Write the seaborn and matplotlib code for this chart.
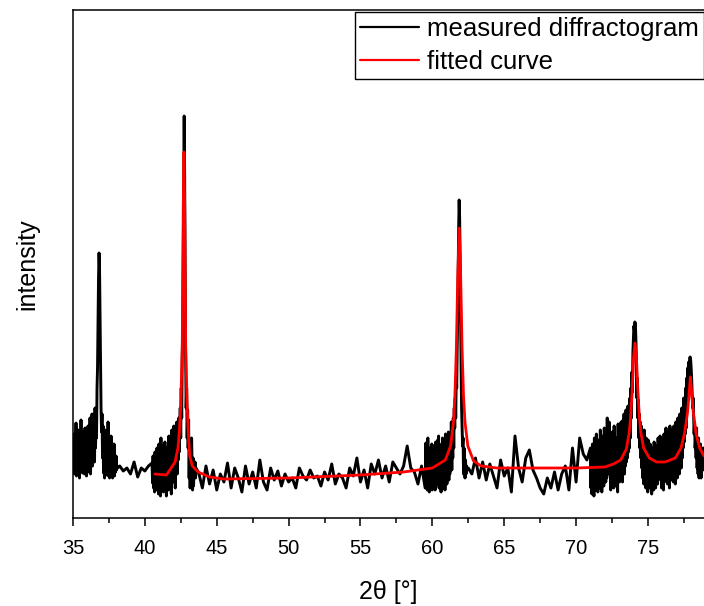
import numpy as np
import pandas as pd
import matplotlib
matplotlib.use("Agg")
import matplotlib.pyplot as plt
import seaborn as sns

# measured diffractogram in pieces
# (dense scans are equally stepped, the parts in between are coarse)
dense_a_range = (35.0, 38.1)
dense_a = [78, 48, 84, 44, 70, 52, 95, 42, 72, 55, 88, 46, 66, 40, 80, 54, 98, 48, 74, 45,
           86, 58, 76, 44, 90, 50, 68, 42, 82, 56, 92, 46, 72, 50, 100, 44, 78, 58, 104, 52,
           88, 62, 96, 56, 110, 70,
           100, 80, 130, 150, 200, 240, 265, 250, 200, 140, 110, 86, 104,
           60, 92, 45, 76, 40, 88, 52, 70, 43, 84, 48, 96, 42, 66, 40, 78, 46, 82, 44, 70,
           40, 64, 46, 74, 42, 58, 46, 62, 48, 52, 50]

coarse_b_x = [38.25, 38.5, 38.75, 39.0, 39.25, 39.5, 39.75, 40.0, 40.25]
coarse_b = [52, 47, 50, 44, 56, 41, 50, 47, 52]

dense_c_range = (40.5, 43.56)
dense_c = [55, 35, 62, 30, 50, 26, 66, 38, 58, 28, 70, 34, 62, 24, 74, 40, 66, 22, 80, 44,
           60, 30, 72, 26, 58, 36, 76, 30, 64, 22, 70, 42, 56, 28, 82, 34, 68, 30, 76, 24,
           88, 46, 72, 36, 92, 54, 70, 30, 84, 60, 96, 44, 80, 58, 100, 66, 90,
           110, 80, 130, 100, 160, 190, 250, 330, 402,
           340, 250, 160, 110, 130, 80, 108, 70, 98, 40, 78, 30, 64, 36, 80, 55, 28, 60,
           32, 50, 44, 56, 40, 50]

coarse_d_range = (43.75, 59.5)
coarse_d = [45, 30, 52, 34, 48, 28, 44, 36, 55, 30, 50, 40, 26, 52, 34, 46, 30, 58, 36, 28,
            50, 38, 47, 32, 44, 36, 40, 30, 50, 42, 38, 48, 40, 42, 32, 46, 38, 54, 34, 44,
            40, 30, 50, 42, 60, 36, 48, 30, 54, 44, 58, 40, 52, 36, 56, 50, 44, 52, 72, 50,
            46, 34, 52, 30]

dense_e_range = (59.55, 62.41)
dense_e = [75, 30, 62, 28, 80, 34, 58, 26, 70, 38, 66, 30, 74, 28, 60, 36, 72, 32, 64, 28,
           76, 40, 68, 34, 78, 46, 82, 30, 70, 38, 62, 26, 74, 36, 80, 30, 66, 42, 72, 28,
           84, 40, 70, 34, 78, 46, 86, 38, 72, 44, 82, 56, 96, 48, 84, 60, 100, 70, 110, 90,
           120, 100, 140, 130, 170, 200, 250, 290, 318,
           300, 260, 200, 150, 110, 90, 72, 80, 44, 70, 62, 40, 58, 44, 52, 48]

coarse_f_range = (62.5, 70.75)
coarse_f = [50, 44, 60, 40, 56, 38, 54, 42, 30, 58, 42, 50, 26, 82, 50, 36, 60, 68, 48, 40,
            30, 24, 40, 30, 46, 28, 44, 52, 28, 70, 36, 80, 64, 58]

dense_g_range = (71.0, 78.865)
dense_g = [70, 30, 62, 24, 74, 36, 58, 22, 80, 40, 66, 28, 84, 34, 60, 26, 78, 44, 70, 30,
           88, 38, 64, 26, 82, 42, 72, 32, 90, 48, 76, 36, 86, 40, 100, 50, 80, 44, 96, 60,
           68, 28, 76, 34, 86, 40, 62, 30, 92, 46, 74, 32, 80, 38, 70, 26, 94, 50, 78, 36,
           88, 40, 96, 46, 84, 36, 98, 50, 104, 44, 90, 52, 108, 56, 96, 60, 112, 66, 104, 70,
           120, 80, 130, 100, 146, 126, 166, 180, 192, 188, 196,
           194, 180, 160, 120, 140, 100, 118, 80, 104, 70, 96, 60, 92, 50,
           84, 40, 76, 34, 88, 46, 70, 30, 80, 38, 66, 26, 78, 44, 62, 30, 74, 36, 58, 24,
           70, 40, 64, 28, 76, 42, 60, 30, 72, 46, 66, 34, 80, 50, 70, 40, 82, 38, 68, 30,
           78, 44, 62, 28, 84, 36, 70, 42, 90, 48, 74, 34, 86, 40, 68, 30, 92, 52, 76, 38,
           88, 40, 84, 36, 92, 46, 78, 34, 96, 50, 82, 40, 100, 48, 88, 44, 104, 56, 90, 50,
           110, 60, 96, 70, 120, 76, 106, 84, 130, 90, 140, 110, 150, 126, 156, 145, 160,
           161,
           158, 150, 140, 124, 110, 120, 100, 84, 96, 70, 80, 60, 90, 50, 72, 44, 80, 40, 66,
           46, 74, 40, 70, 52, 64, 48, 70]

# fitted curve
fit_x = [40.7, 41.5, 42.1, 42.3, 42.4, 42.5, 42.6, 42.67, 42.72, 42.77, 42.84, 42.94, 43.02,
         43.12, 43.3, 43.7, 44.5, 45.5, 50.0, 55.0, 58.0, 60.0, 60.9, 61.27, 61.47, 61.57,
         61.67, 61.77, 61.87, 61.97, 62.07, 62.17, 62.27, 62.47, 62.87, 63.4, 64.5, 66.0,
         70.0, 72.0, 72.6, 73.1, 73.5, 73.7, 73.8, 73.9, 74.0, 74.1, 74.2, 74.3, 74.4, 74.5,
         74.7, 75.1, 75.6, 76.2, 76.9, 77.3, 77.55, 77.75, 77.85, 77.95, 78.05, 78.15, 78.35,
         78.6, 78.9]
fit_y = [44, 43, 56, 70, 86, 114, 170, 310, 366, 310, 170, 114, 86,
         62, 52, 46, 41, 39, 40, 43, 46, 50, 58, 72, 96, 122,
         169, 242, 290, 242, 169, 122, 96, 72, 57, 52, 50, 50,
         50, 51, 54, 58, 69, 86, 102, 127, 160, 175, 160, 127, 102, 86,
         70, 60, 56, 56, 60, 70, 85, 105, 122, 141, 124, 106, 84,
         70, 62]

meas_x = np.concatenate([
    np.linspace(*dense_a_range, len(dense_a)), coarse_b_x,
    np.linspace(*dense_c_range, len(dense_c)),
    np.linspace(*coarse_d_range, len(coarse_d)),
    np.linspace(*dense_e_range, len(dense_e)),
    np.linspace(*coarse_f_range, len(coarse_f)),
    np.linspace(*dense_g_range, len(dense_g))])
meas_y = np.concatenate([dense_a, coarse_b, dense_c, coarse_d, dense_e, coarse_f, dense_g])

meas = pd.DataFrame({"two_theta": meas_x, "intensity": meas_y})
fit = pd.DataFrame({"two_theta": fit_x, "intensity": fit_y})

sns.set_style("ticks", {"axes.labelcolor": "black", "xtick.color": "black",
                        "text.color": "black", "axes.edgecolor": "black"})
plt.rcParams["font.family"] = ["Liberation Sans", "DejaVu Sans"]

fig = plt.figure(figsize=(7.04, 6.06), dpi=100)
ax = fig.add_axes([73 / 704, 88 / 606, 631 / 704, 508 / 606])

sns.lineplot(data=meas, x="two_theta", y="intensity", ax=ax, color="black",
             lw=2.1, sort=False, estimator=None, label="measured diffractogram")
sns.lineplot(data=fit, x="two_theta", y="intensity", ax=ax, color="#ff0000",
             lw=2.0, sort=False, estimator=None, label="fitted curve")

ax.set_xlim(35, 78.9)
ax.set_ylim(0, 508)
ax.set_xticks(np.arange(35, 79, 5))
ax.set_xticks(np.arange(37.5, 79, 5), minor=True)
ax.set_yticks([])
ax.tick_params(axis="x", which="major", direction="out", length=6, width=1.1,
               labelsize=14.5, pad=9, colors="black")
ax.tick_params(axis="x", which="minor", direction="out", length=3.5, width=1.1)
for side in ["left", "bottom", "top"]:
    ax.spines[side].set_linewidth(1.1)
    ax.spines[side].set_color("black")
ax.spines["right"].set_visible(False)

ax.set_xlabel("2θ [°]", fontsize=18, labelpad=16, color="black")
ax.set_ylabel("intensity", fontsize=18, labelpad=24, color="black")

leg = ax.legend(loc="upper right", bbox_to_anchor=(1.0, 0.996), fontsize=18.5,
                frameon=True, fancybox=False, borderaxespad=0, borderpad=0.2,
                handlelength=2.3, handletextpad=0.3, labelspacing=0.35)
leg.get_frame().set_edgecolor("black")
leg.get_frame().set_linewidth(1.0)
leg.get_frame().set_alpha(1)
for line in leg.get_lines():
    line.set_linewidth(1.6)
for txt in leg.get_texts():
    txt.set_color("black")

fig.savefig("out.png", dpi=100)
